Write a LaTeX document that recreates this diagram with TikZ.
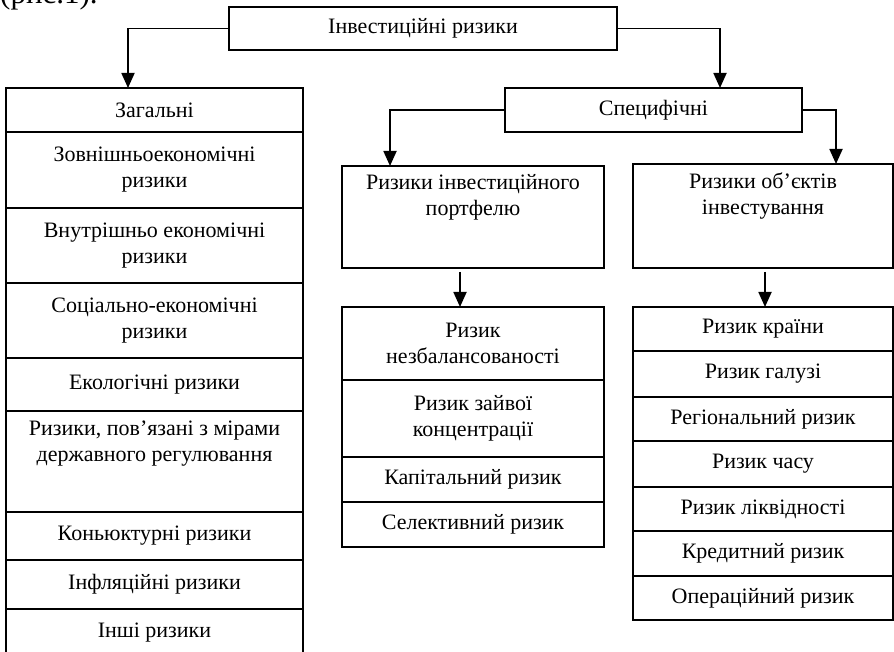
\documentclass[tikz,border=0pt]{standalone}
\usepackage{fontspec}
\setmainfont{Liberation Serif}
\usetikzlibrary{arrows.meta,positioning}

\begin{document}
\begin{tikzpicture}[
    x=1pt, y=-1pt,
    node distance=0pt,
    every node/.style={font=\fontsize{22}{26}\selectfont},
    box/.style={
      rectangle, draw, line width=1.8pt,
      inner sep=0pt, outer sep=0pt, align=center
    },
    leftbox/.style={box, minimum width=297pt},
    midbox/.style={box, minimum width=262pt},
    rightbox/.style={box, minimum width=260pt},
    arr/.style={-{Triangle[length=15pt, width=13pt]}, line width=1.8pt}
  ]
    \useasboundingbox (0,0) rectangle (894,652);

    % ── Caption (cut at the top) ──
    \node[anchor=base west, inner sep=0pt, font=\fontsize{31}{36}\selectfont] (caption) at (0,4) {(рис.1).};

    % ── Root ──
    \node[box, minimum width=388pt, minimum height=43pt, anchor=north west] (invest) at (229,7) {Інвестиційні ризики};

    % ── General risks ──
    \node[leftbox, minimum height=44pt, anchor=north west] (general) at (6,88) {Загальні};
    \node[leftbox, minimum height=76pt, below=of general] (external) {Зовнішньоекономічні\\ризики};
    \node[leftbox, minimum height=75pt, below=of external] (internal) {Внутрішньо економічні\\ризики};
    \node[leftbox, minimum height=75pt, below=of internal] (social) {Соціально-економічні\\ризики};
    \node[leftbox, minimum height=53pt, below=of social] (ecology) {Екологічні ризики};
    \node[leftbox, minimum height=101pt, below=of ecology] (regul) {Ризики, пов’язані з мірами\\державного регулювання\\[7pt]\strut};
    \node[leftbox, minimum height=48pt, below=of regul] (conj) {Коньюктурні ризики};
    \node[leftbox, minimum height=49pt, below=of conj] (infl) {Інфляційні ризики};
    \node[leftbox, minimum height=48pt, below=of infl] (other) {Інші ризики};

    % ── Specific risks ──
    \node[box, minimum width=297pt, minimum height=44pt, anchor=north west] (specific) at (505,88) {Специфічні};
    \node[midbox, minimum height=102pt, anchor=north west] (portfolio) at (342,166) {Ризики інвестиційного\\портфелю\\[10pt]\strut};
    \node[rightbox, minimum height=104pt, anchor=north west] (objects) at (633,164) {Ризики об’єктів\\інвестування\\[10pt]\strut};

    % ── Portfolio risks ──
    \node[midbox, minimum height=73pt, anchor=north west] (imbalance) at (342,307) {Ризик\\незбалансованості};
    \node[midbox, minimum height=77pt, below=of imbalance] (concentr) {Ризик зайвої\\концентрації};
    \node[midbox, minimum height=45pt, below=of concentr] (capital) {Капітальний ризик};
    \node[midbox, minimum height=45pt, below=of capital] (select) {Селективний ризик};

    % ── Object risks ──
    \node[rightbox, minimum height=44pt, anchor=north west] (country) at (633,307) {Ризик країни};
    \node[rightbox, minimum height=46pt, below=of country] (branch) {Ризик галузі};
    \node[rightbox, minimum height=44pt, below=of branch] (region) {Регіональний ризик};
    \node[rightbox, minimum height=46pt, below=of region] (timerisk) {Ризик часу};
    \node[rightbox, minimum height=44pt, below=of timerisk] (liquid) {Ризик ліквідності};
    \node[rightbox, minimum height=45pt, below=of liquid] (credit) {Кредитний ризик};
    \node[rightbox, minimum height=44pt, below=of credit] (operat) {Операційний ризик};

    % ── Arrows ──
    \draw[arr] (invest.west) -| ([xshift=-26.5pt]general.north);
    \draw[arr] (invest.east) -| ([xshift=66.5pt]specific.north);
    \draw[arr] (specific.west) -| ([xshift=-83pt]portfolio.north);
    \draw[arr] (specific.east) -| ([xshift=73pt]objects.north);
    \draw[arr] ([xshift=-13pt, yshift=-4pt]portfolio.south) -- ([xshift=-13pt]imbalance.north);
    \draw[arr] ([xshift=2pt, yshift=-4pt]objects.south) -- ([xshift=2pt]country.north);

  \end{tikzpicture}
\end{document}
